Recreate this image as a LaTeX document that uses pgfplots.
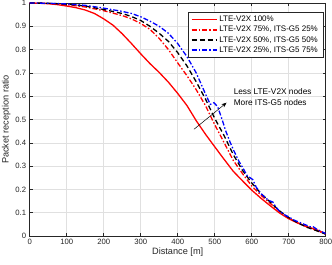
\documentclass[border=0pt]{standalone}
\usepackage{pgfplots}
\pgfplotsset{compat=1.18}
\usepackage{fontspec}
\setmainfont{Liberation Sans}
\usetikzlibrary{arrows.meta}
\definecolor{gridc}{RGB}{224,224,224}
\definecolor{axc}{RGB}{38,38,38}
\begin{document}
\begin{tikzpicture}
\path[use as bounding box] (-29.7pt,-29pt) rectangle (302.3pt,236pt);
\begin{axis}[
  scale only axis, width=296pt, height=233pt,
  xmin=0, xmax=800, ymin=0, ymax=1,
  xtick={0,100,200,300,400,500,600,700,800},
  ytick={0,0.1,0.2,0.3,0.4,0.5,0.6,0.7,0.8,0.9,1},
  yticklabel style={/pgf/number format/fixed},
  grid=major, major grid style={gridc, line width=0.5pt},
  axis line style={axc, line width=0.5pt},
  tick style={axc, line width=0.5pt}, tick align=inside, major tick length=3pt,
  ticklabel style={font=\fontsize{7.7}{9}\selectfont, text=axc},
  /pgf/number format/assume math mode=true,
  xticklabel style={yshift=0.5pt},
  xlabel={Distance [m]}, ylabel={Packet reception ratio},
  label style={font=\fontsize{9.2}{11}\selectfont, text=axc},
  xlabel style={yshift=4pt}, ylabel style={yshift=-2pt},
  legend style={at={(rel axis cs:0.991,0.961)}, anchor=north east,
    font=\fontsize{8}{9.5}\selectfont, row sep=-1pt, draw=axc,
    cells={anchor=west}},
  legend image code/.code={\draw[#1] (0pt,0pt) -- (25pt,0pt);},
]
\addplot[color=red, solid, line width=1.3pt] coordinates {
(0,1.000)(25,0.999)(50,0.997)(75,0.993)(100,0.987)(125,0.980)(150,0.970)(175,0.955)
(200,0.932)(225,0.905)(250,0.868)(275,0.826)(300,0.782)(325,0.740)(350,0.702)(375,0.660)
(400,0.612)(425,0.560)(450,0.495)(475,0.437)(500,0.383)(525,0.330)(550,0.278)(575,0.237)
(600,0.197)(625,0.162)(650,0.130)(675,0.099)(700,0.074)(725,0.055)(750,0.040)(775,0.027)(800,0.010)};
\addlegendentry{LTE-V2X 100\%}
\addplot[color=red, line width=1.3pt, dash pattern=on 5pt off 2pt on 1.5pt off 2pt] coordinates {
(0,1.000)(50,0.998)(100,0.993)(150,0.983)(200,0.967)(250,0.946)(275,0.932)(300,0.912)
(325,0.887)(350,0.848)(375,0.800)(400,0.743)(425,0.688)(450,0.628)(475,0.560)(500,0.478)
(525,0.402)(550,0.325)(575,0.268)(600,0.215)(625,0.175)(650,0.140)(675,0.106)(700,0.078)
(725,0.056)(750,0.038)(775,0.024)(800,0.008)};
\addlegendentry{LTE-V2X 75\%, ITS-G5 25\%}
\addplot[color=black, line width=1.3pt, dash pattern=on 5pt off 3pt] coordinates {
(0,1.000)(50,0.999)(100,0.995)(150,0.987)(200,0.972)(250,0.955)(275,0.942)(300,0.925)
(325,0.900)(350,0.870)(375,0.835)(400,0.787)(425,0.730)(450,0.662)(475,0.588)(500,0.505)
(525,0.432)(550,0.350)(575,0.282)(600,0.228)(625,0.182)(650,0.146)(675,0.108)(700,0.079)
(725,0.056)(750,0.037)(775,0.023)(800,0.008)};
\addlegendentry{LTE-V2X 50\%, ITS-G5 50\%}
\addplot[color=blue, line width=1.3pt, dash pattern=on 5pt off 2pt on 1.5pt off 2pt] coordinates {
(0,1.000)(50,0.999)(100,0.996)(150,0.990)(200,0.978)(250,0.964)(275,0.955)(300,0.941)
(325,0.922)(350,0.900)(375,0.870)(400,0.826)(425,0.770)(450,0.700)(475,0.610)(488,0.565)
(498,0.572)(508,0.555)(520,0.500)(530,0.450)(541,0.405)(550,0.372)(565,0.322)(577,0.290)
(588,0.258)(596,0.250)(603,0.242)(612,0.210)(625,0.182)(640,0.160)(650,0.150)(657,0.146)
(665,0.125)(675,0.107)(690,0.090)(700,0.082)(715,0.068)(730,0.058)(750,0.045)(758,0.040)
(766,0.040)(775,0.030)(790,0.018)(800,0.010)};
\addlegendentry{LTE-V2X 25\%, ITS-G5 75\%}
\draw[-{Stealth[length=5pt,width=4pt]}, line width=0.5pt] (axis cs:444,0.458) -- (axis cs:532,0.572);
\node[anchor=west, font=\fontsize{8.3}{10}\selectfont, inner sep=0pt] at (axis cs:551,0.622) {Less LTE-V2X nodes};
\node[anchor=west, font=\fontsize{8.3}{10}\selectfont, inner sep=0pt] at (axis cs:551,0.572) {More ITS-G5 nodes};
\end{axis}
\end{tikzpicture}
\end{document}
